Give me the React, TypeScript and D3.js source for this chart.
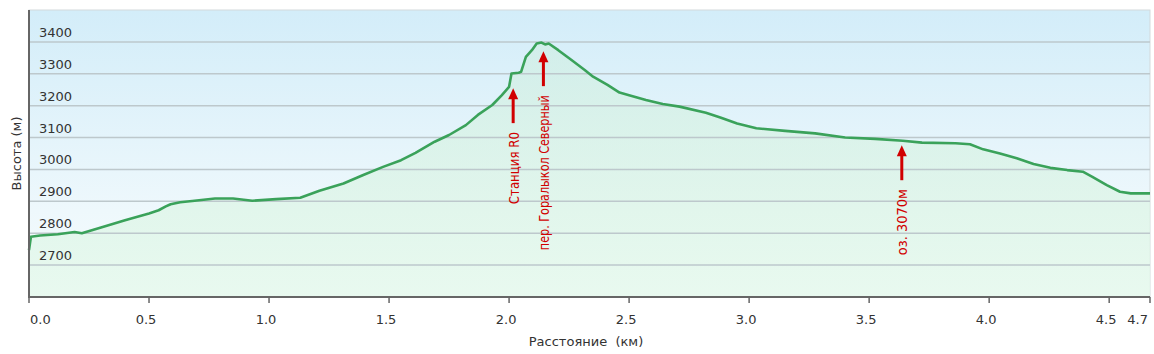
import { scaleLinear, line, area } from 'd3';

// Elevation profile: distance (km) / elevation (m)
const distKm = [
  0.0, 0.008, 0.046, 0.12, 0.19, 0.22, 0.3, 0.4, 0.5, 0.54, 0.57, 0.59, 0.63, 0.68, 0.775, 0.85, 0.93, 1.03, 1.13,
  1.21, 1.31, 1.39, 1.475, 1.55, 1.61, 1.69, 1.75, 1.82, 1.87, 1.93, 1.97, 2.0, 2.01, 2.04, 2.05,
  2.07, 2.095, 2.115, 2.135, 2.15, 2.165, 2.205, 2.26, 2.315, 2.35, 2.41, 2.46, 2.5, 2.57, 2.64,
  2.71, 2.82, 2.88, 2.95, 3.03, 3.15, 3.275, 3.4, 3.525, 3.64, 3.72, 3.86, 3.92, 3.975, 4.045,
  4.115, 4.185, 4.255, 4.325, 4.39, 4.43, 4.49, 4.545, 4.59, 4.67,
];
const elevM = [
  2747, 2789, 2793, 2797, 2804, 2800, 2818, 2841, 2862, 2872, 2884, 2891, 2897, 2901, 2909, 2909, 2902, 2907, 2911,
  2933, 2956, 2982, 3008, 3029, 3052, 3087, 3108, 3139, 3171, 3202, 3233, 3259, 3301, 3303, 3306,
  3353, 3374, 3395, 3398, 3392, 3395, 3374, 3343, 3312, 3291, 3265, 3241, 3233, 3218, 3205,
  3197, 3178, 3163, 3144, 3129, 3121, 3113, 3100, 3096, 3090, 3084, 3082, 3079, 3063, 3050,
  3035, 3017, 3005, 2998, 2993, 2977, 2951, 2930, 2925, 2925,
];

const xTicks = [0, 0.5, 1.0, 1.5, 2.0, 2.5, 3.0, 3.5, 4.0, 4.5];
const xEndLabel = '4.7';
const yTicks = [2700, 2800, 2900, 3000, 3100, 3200, 3300, 3400];

// Waypoint annotations
const noteLabels = ['Станция R0', 'пер. Горалыкол Северный', 'оз. 3070м'];
const noteKm = [2.017, 2.143, 3.636];
const noteTipElev = [3255, 3371, 3076];
const noteTextLen = [72, 155, 66];

const W = 1154;
const H = 354;
const M = { left: 29, right: 4, top: 10, bottom: 57 };
const FONT = "'DejaVu Sans', Verdana, sans-serif";

export default function App() {
  const x = scaleLinear().domain([0, 4.67]).range([M.left, W - M.right]);
  const y = scaleLinear().domain([2600, 3500]).range([H - M.bottom, M.top]);
  const pts = distKm.map((d, i) => [d, elevM[i]] as [number, number]);

  const lineGen = line<[number, number]>()
    .x((d) => x(d[0]))
    .y((d) => y(d[1]));
  const areaGen = area<[number, number]>()
    .x((d) => x(d[0]))
    .y0(y(2600))
    .y1((d) => y(d[1]));

  const [x0, x1] = x.range();
  const [yb, yt] = y.range();

  return (
    <svg width={W} height={H} style={{ position: 'absolute', left: 0, top: 0, background: '#fff' }}>
      <defs>
        <linearGradient id="bg" x1="0" y1="0" x2="0" y2="1">
          <stop offset="0" stopColor="#d3edf9" />
          <stop offset="0.7" stopColor="#eef8fc" />
          <stop offset="1" stopColor="#f6fcfd" />
        </linearGradient>
        <linearGradient id="fill" gradientUnits="userSpaceOnUse" x1="0" y1={yt} x2="0" y2={yb}>
          <stop offset="0" stopColor="#c6ecd3" stopOpacity={0.35} />
          <stop offset="1" stopColor="#e6f9ed" stopOpacity={0.85} />
        </linearGradient>
      </defs>

      <rect x={x0} y={yt} width={x1 - x0} height={yb - yt} fill="url(#bg)" stroke="#d3d9db" />

      <path d={areaGen(pts) || ''} fill="url(#fill)" />

      {yTicks.map((t) => (
        <g key={t}>
          <line x1={x0} x2={x1} y1={y(t)} y2={y(t)} stroke="#bdc8cc" strokeWidth={1.5} />
          <text x={x0 + 10} y={y(t) - 5} fontSize={13} fontFamily={FONT} fill="#333">
            {t}
          </text>
        </g>
      ))}

      <path d={lineGen(pts) || ''} fill="none" stroke="#3aa25a" strokeWidth={2.6} strokeLinejoin="round" />

      {/* axes */}
      <line x1={x0} x2={x0} y1={yt} y2={yb} stroke="#666" strokeWidth={2} />
      <line x1={x0 - 1} x2={x1} y1={yb} y2={yb} stroke="#666" strokeWidth={2} />
      {xTicks.map((t, i) => (
        <g key={t}>
          <line x1={x(t)} x2={x(t)} y1={yb} y2={yb + 6} stroke="#666" strokeWidth={1.5} />
          <text
            x={i === 0 ? x(t) + 1 : x(t) - 3}
            y={yb + 27}
            fontSize={13}
            fontFamily={FONT}
            fill="#333"
            textAnchor={i === 0 ? 'start' : 'middle'}
          >
            {t.toFixed(1)}
          </text>
        </g>
      ))}
      <line x1={x1} x2={x1} y1={yb} y2={yb + 6} stroke="#666" strokeWidth={1.5} />
      <text x={x1 - 2} y={yb + 27} fontSize={13} fontFamily={FONT} fill="#333" textAnchor="end">
        {xEndLabel}
      </text>

      <text
        transform={`translate(21,${(yt + yb) / 2}) rotate(-90)`}
        textAnchor="middle"
        fontSize={13}
        fontFamily={FONT}
        fill="#333"
      >
        Высота (м)
      </text>
      <text x={586} y={346} textAnchor="middle" fontSize={13} fontFamily={FONT} fill="#333">
        {'Расстояние\u00a0 (км)'}
      </text>

      {/* annotations */}
      {noteLabels.map((lbl, i) => {
        const ax = x(noteKm[i]);
        const tip = y(noteTipElev[i]);
        const tail = tip + 35;
        return (
          <g key={lbl} fill="#d10000">
            <line x1={ax} x2={ax} y1={tip + 8} y2={tail} stroke="#d10000" strokeWidth={3} />
            <path d={`M${ax},${tip} L${ax - 5},${tip + 11} L${ax + 5},${tip + 11} Z`} />
            <text
              transform={`translate(${ax + 5.5},${tail + 9}) rotate(-90)`}
              textAnchor="end"
              fontSize={14}
              fontFamily="'Liberation Sans Narrow', 'DejaVu Sans Condensed', sans-serif"
              textLength={noteTextLen[i]}
              lengthAdjust="spacingAndGlyphs"
              style={{ whiteSpace: 'pre' }}
            >
              {lbl}
            </text>
          </g>
        );
      })}
    </svg>
  );
}
